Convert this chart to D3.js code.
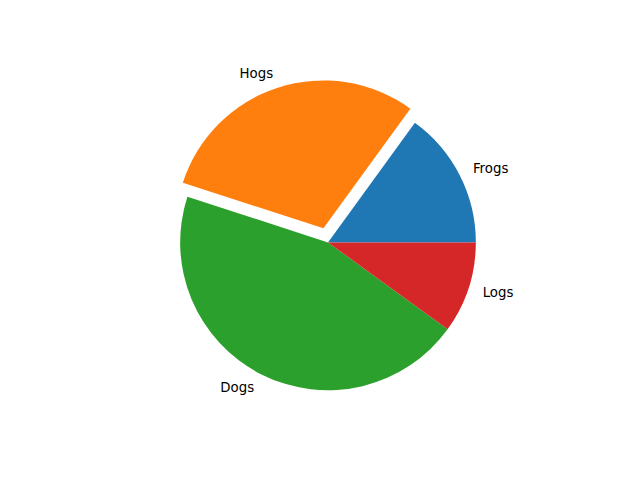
<!DOCTYPE html>
<html>
    <head>
        <script src="https://d3js.org/d3.v7.min.js"></script>
        <style type="text/css">
            body {
                margin: 0;
                background: #fff;
            }
            text {
                font-family: "DejaVu Sans", sans-serif;
                font-size: 13.33px;
                fill: #000;
            }
        </style>
    </head>
    <body>
        <svg id="chart" width="640" height="480" xmlns="http://www.w3.org/2000/svg"></svg>
        <script type="text/javascript">
        const labels = ["Frogs", "Hogs", "Dogs", "Logs"];
        const sizes = [15, 30, 45, 10];
        const explode = [0, 0.1, 0, 0];
        const colors = ["#1f77b4", "#ff7f0e", "#2ca02c", "#d62728"];

        const W = 640, H = 480;
        // axes box like matplotlib defaults: 0.125..0.9 wide, 0.11..0.88 tall
        const axLeft = 0.125 * W, axRight = 0.9 * W;
        const axTop = H - 0.88 * H, axBottom = H - 0.11 * H;
        const cx = (axLeft + axRight) / 2;
        const cy = (axTop + axBottom) / 2;
        const radius = (axBottom - axTop) / 2.5;

        const svg = d3.select("#chart");

        const color = d3.scaleOrdinal().domain(labels).range(colors);

        // counterclockwise starting at 3 o'clock
        const pie = d3.pie()
            .sort(null)
            .value(d => d.value)
            .startAngle(Math.PI / 2)
            .endAngle(Math.PI / 2 - 2 * Math.PI);

        const data = labels.map((l, i) => ({ label: l, value: sizes[i], explode: explode[i] }));
        const arcs = pie(data);

        const arc = d3.arc().innerRadius(0).outerRadius(radius);

        // mid angle in math convention (ccw from +x)
        const theta = d => Math.PI / 2 - (d.startAngle + d.endAngle) / 2;

        const g = svg.append("g").attr("transform", `translate(${cx},${cy})`);

        const slice = g.selectAll("g.slice")
            .data(arcs)
            .join("g")
            .attr("class", "slice")
            .attr("transform", d => {
                const off = d.data.explode * radius;
                return `translate(${off * Math.cos(theta(d))},${-off * Math.sin(theta(d))})`;
            });

        slice.append("path")
            .attr("d", arc)
            .attr("fill", d => color(d.data.label));

        slice.append("text")
            .attr("x", d => 1.1 * radius * Math.cos(theta(d)))
            .attr("y", d => -1.1 * radius * Math.sin(theta(d)))
            .attr("text-anchor", d => Math.cos(theta(d)) > 0 ? "start" : "end")
            .attr("dominant-baseline", "central")
            .text(d => d.data.label);
        </script>
    </body>
</html>
